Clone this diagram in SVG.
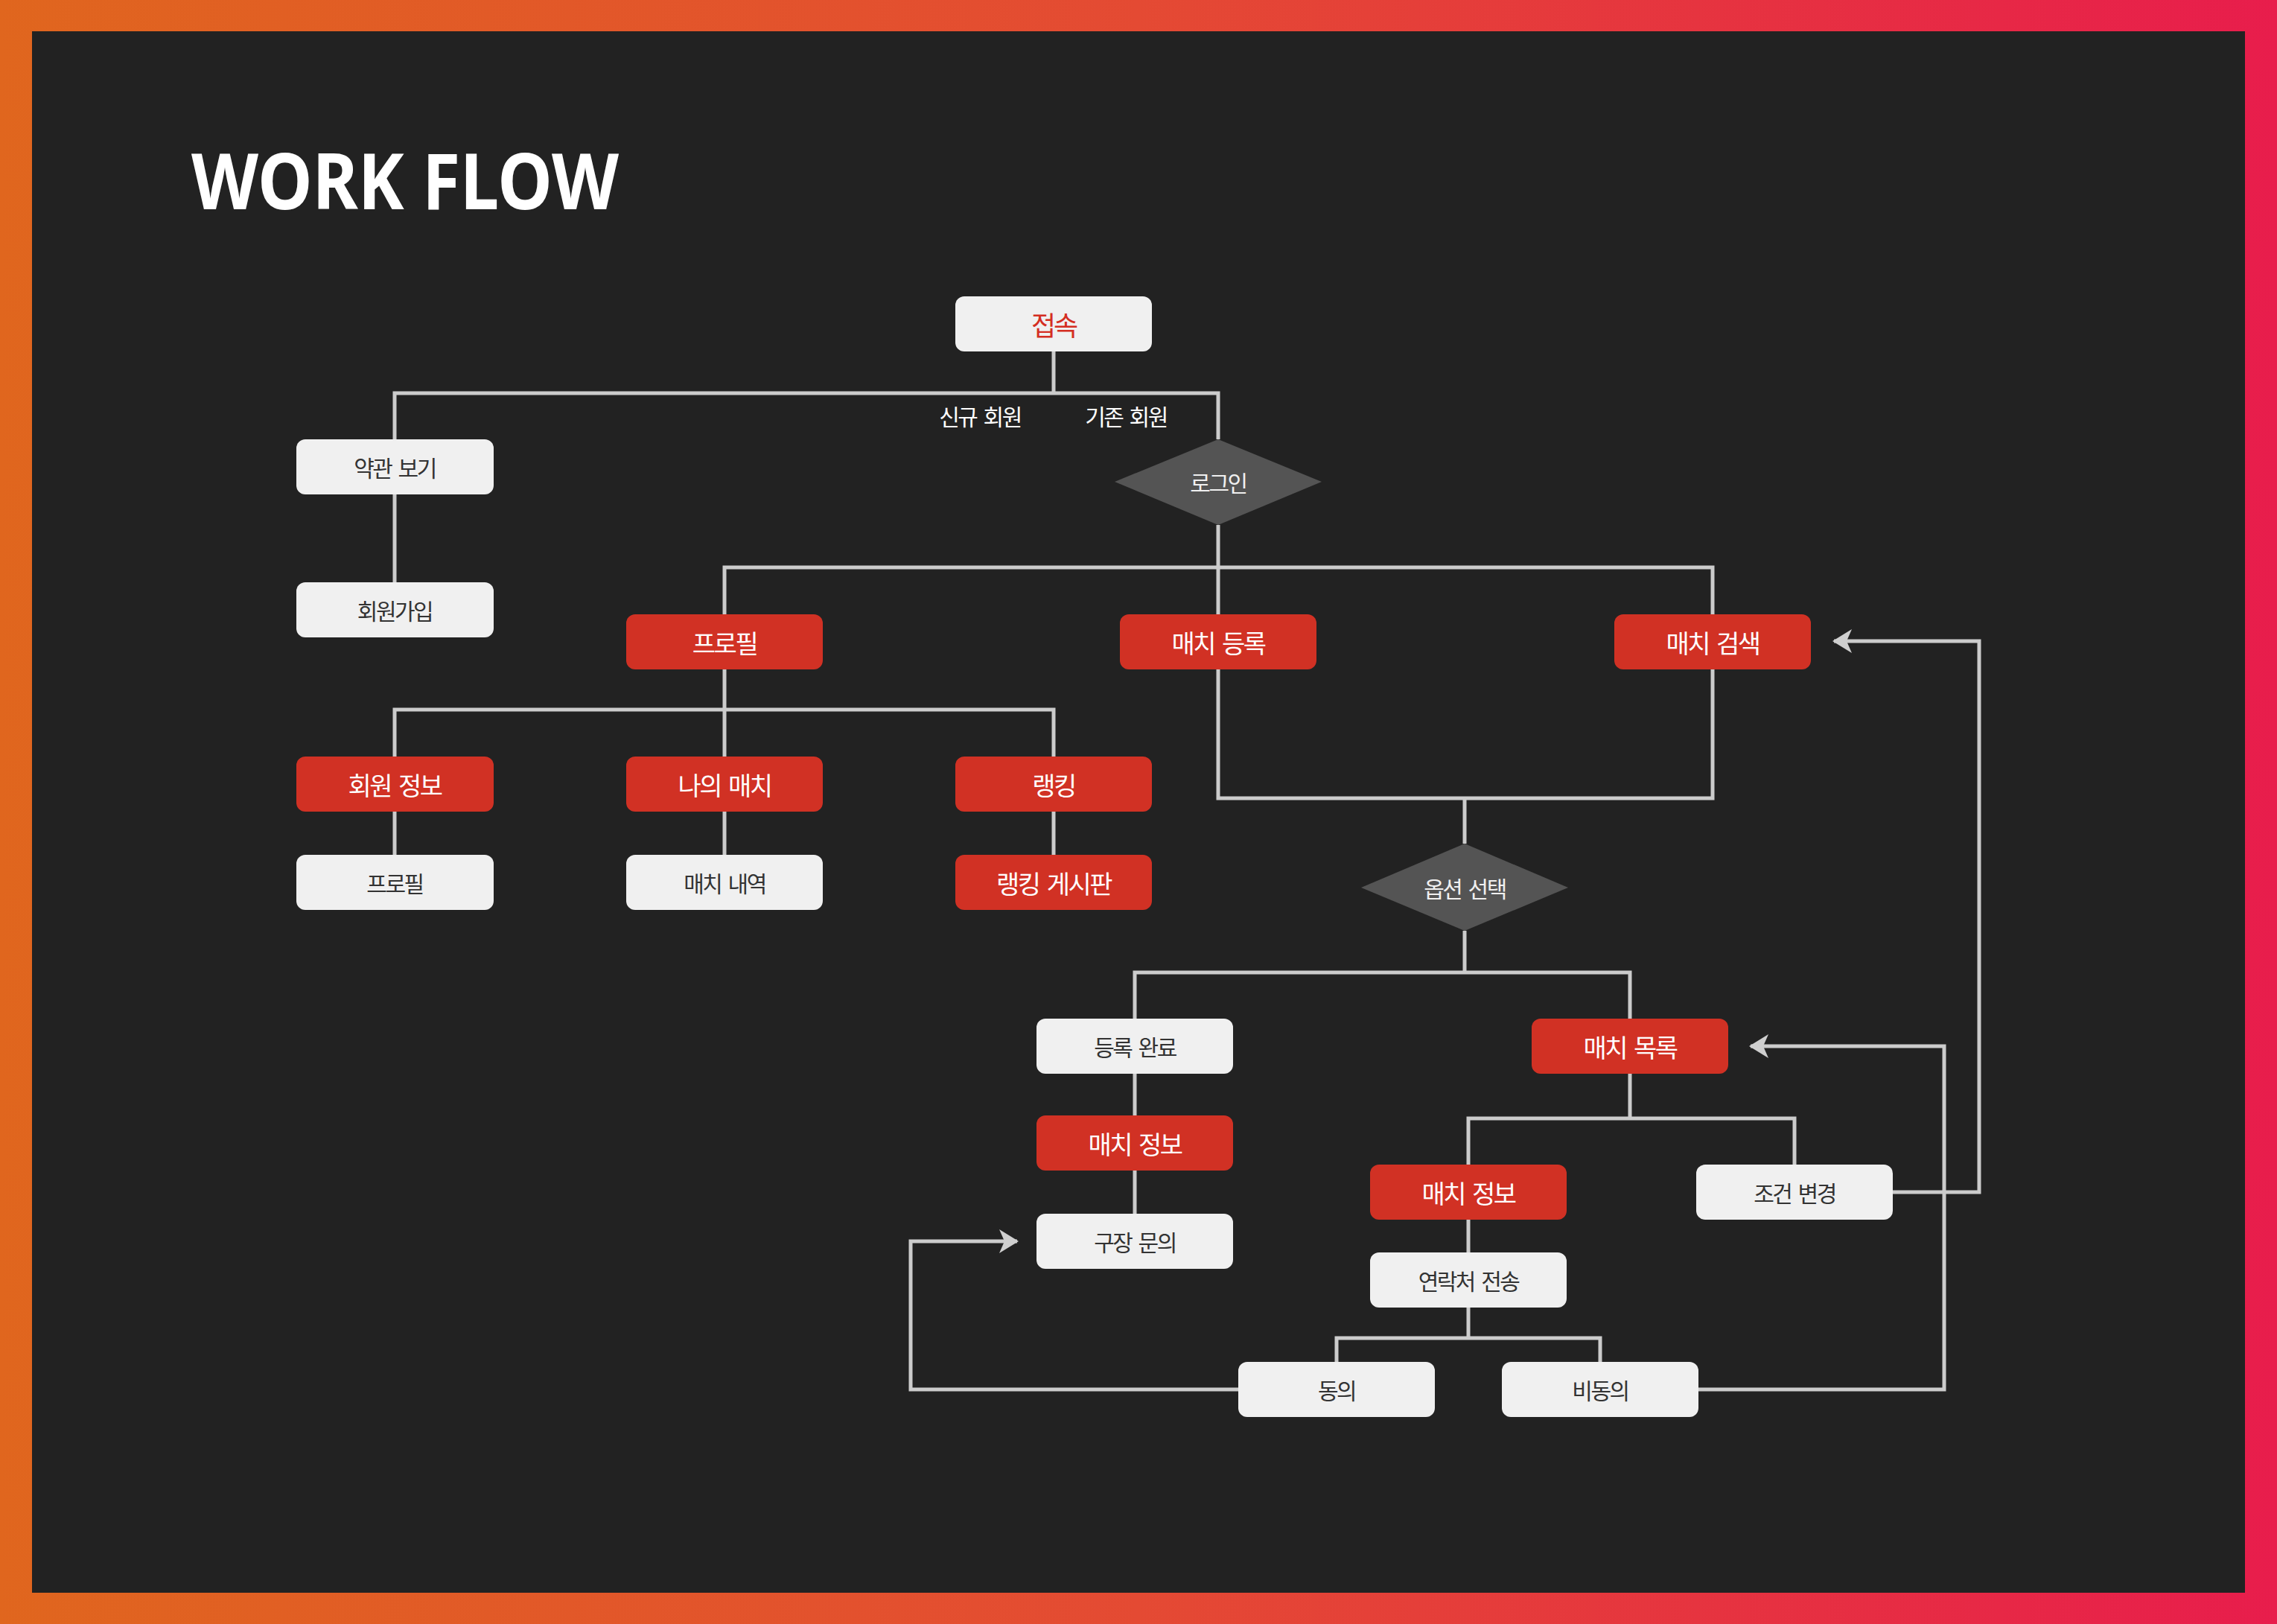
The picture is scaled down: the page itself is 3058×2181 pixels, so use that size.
<svg xmlns="http://www.w3.org/2000/svg" width="3058" height="2181" viewBox="0 0 3058 2181">
<defs>
<linearGradient id="frame" x1="0" y1="0" x2="1" y2="0">
<stop offset="0" stop-color="#E0661E"/>
<stop offset="0.5" stop-color="#E44A33"/>
<stop offset="1" stop-color="#E81D4C"/>
</linearGradient>
<marker id="arr" markerUnits="userSpaceOnUse" markerWidth="26" markerHeight="32" viewBox="0 0 26 32" refX="24" refY="16" orient="auto">
<path d="M0,0 L26,16 L0,32 L7,16 Z" fill="#CFCFCF"/>
</marker>
<style>
.lt{fill:#F0F0F0}
.rd{fill:#D13124}
.dm{fill:#545454}
.t{font-family:"Noto Sans CJK KR","Noto Sans",sans-serif;text-anchor:middle;dominant-baseline:central;word-spacing:5px}
.tl{font-size:30px;fill:#333333;letter-spacing:-2.5px}
.tr{font-size:34px;fill:#FFFFFF;letter-spacing:-2.5px}
.td{font-size:30px;fill:#F0F0F0;letter-spacing:-2.5px}
.tw{font-size:30px;fill:#FFFFFF;letter-spacing:-2.5px}
.c{fill:none;stroke:#CCCCCC;stroke-width:5}
</style>
</defs>
<rect x="0" y="0" width="3058" height="2181" fill="url(#frame)"/>
<rect x="43" y="42" width="2972" height="2097" fill="#222222"/>
<text x="257" y="281" font-family="Noto Sans,sans-serif" font-weight="700" font-size="104" fill="#FFFFFF" textLength="574" lengthAdjust="spacingAndGlyphs">WORK FLOW</text>

<g id="connectors">
<path class="c" d="M1415,472 V528"/>
<path class="c" d="M530,590 V528 H1636 V590"/>
<path class="c" d="M530,664 V782"/>
<path class="c" d="M1636,705 V825"/>
<path class="c" d="M973,825 V762 H2300 V825"/>
<path class="c" d="M973,899 V1016"/>
<path class="c" d="M530,1016 V953 H1415 V1016"/>
<path class="c" d="M530,1090 V1148"/>
<path class="c" d="M973,1090 V1148"/>
<path class="c" d="M1415,1090 V1148"/>
<path class="c" d="M1636,899 V1072 H2300 V899"/>
<path class="c" d="M1967,1072 V1133"/>
<path class="c" d="M1967,1250 V1306"/>
<path class="c" d="M1524,1368 V1306 H2189 V1368"/>
<path class="c" d="M1524,1442 V1498"/>
<path class="c" d="M1524,1572 V1630"/>
<path class="c" d="M2189,1442 V1502"/>
<path class="c" d="M1972,1564 V1502 H2410 V1564"/>
<path class="c" d="M1972,1638 V1682"/>
<path class="c" d="M1972,1756 V1797"/>
<path class="c" d="M1795,1829 V1797 H2149 V1829"/>
<path class="c" d="M1663,1866 H1223 V1667 H1366" marker-end="url(#arr)"/>
<path class="c" d="M2281,1866 H2611 V1405 H2351" marker-end="url(#arr)"/>
<path class="c" d="M2542,1601 H2658 V861 H2463" marker-end="url(#arr)"/>
<text class="t tw" x="1316" y="558">신규 회원</text>
<text class="t tw" x="1512" y="558">기존 회원</text>
</g>

<g id="n-access"><rect class="lt" x="1283" y="398" width="264" height="74" rx="12"/><text class="t" x="1415" y="435" font-size="36" fill="#D42E22" letter-spacing="-3">접속</text></g>
<g id="n-login"><polygon class="dm" points="1636,590 1775,647 1636,705 1497,647"/><text class="t td" x="1636" y="647">로그인</text></g>
<g id="n-terms"><rect class="lt" x="398" y="590" width="265" height="74" rx="12"/><text class="t tl" x="530" y="627">약관 보기</text></g>
<g id="n-signup"><rect class="lt" x="398" y="782" width="265" height="74" rx="12"/><text class="t tl" x="530" y="819">회원가입</text></g>
<g id="n-profile"><rect class="rd" x="841" y="825" width="264" height="74" rx="12"/><text class="t tr" x="973" y="862">프로필</text></g>
<g id="n-match-reg"><rect class="rd" x="1504" y="825" width="264" height="74" rx="12"/><text class="t tr" x="1636" y="862">매치 등록</text></g>
<g id="n-match-search"><rect class="rd" x="2168" y="825" width="264" height="74" rx="12"/><text class="t tr" x="2300" y="862">매치 검색</text></g>
<g id="n-member-info"><rect class="rd" x="398" y="1016" width="265" height="74" rx="12"/><text class="t tr" x="530" y="1053">회원 정보</text></g>
<g id="n-my-match"><rect class="rd" x="841" y="1016" width="264" height="74" rx="12"/><text class="t tr" x="973" y="1053">나의 매치</text></g>
<g id="n-ranking"><rect class="rd" x="1283" y="1016" width="264" height="74" rx="12"/><text class="t tr" x="1415" y="1053">랭킹</text></g>
<g id="n-profile-detail"><rect class="lt" x="398" y="1148" width="265" height="74" rx="12"/><text class="t tl" x="530" y="1185">프로필</text></g>
<g id="n-match-history"><rect class="lt" x="841" y="1148" width="264" height="74" rx="12"/><text class="t tl" x="973" y="1185">매치 내역</text></g>
<g id="n-ranking-board"><rect class="rd" x="1283" y="1148" width="264" height="74" rx="12"/><text class="t tr" x="1415" y="1185">랭킹 게시판</text></g>
<g id="n-option"><polygon class="dm" points="1967,1133 2106,1192 1967,1250 1828,1192"/><text class="t td" x="1967" y="1192">옵션 선택</text></g>
<g id="n-reg-done"><rect class="lt" x="1392" y="1368" width="264" height="74" rx="12"/><text class="t tl" x="1524" y="1405">등록 완료</text></g>
<g id="n-match-list"><rect class="rd" x="2057" y="1368" width="264" height="74" rx="12"/><text class="t tr" x="2189" y="1405">매치 목록</text></g>
<g id="n-match-info-1"><rect class="rd" x="1392" y="1498" width="264" height="74" rx="12"/><text class="t tr" x="1524" y="1535">매치 정보</text></g>
<g id="n-field-inquiry"><rect class="lt" x="1392" y="1630" width="264" height="74" rx="12"/><text class="t tl" x="1524" y="1667">구장 문의</text></g>
<g id="n-match-info-2"><rect class="rd" x="1840" y="1564" width="264" height="74" rx="12"/><text class="t tr" x="1972" y="1601">매치 정보</text></g>
<g id="n-condition"><rect class="lt" x="2278" y="1564" width="264" height="74" rx="12"/><text class="t tl" x="2410" y="1601">조건 변경</text></g>
<g id="n-contact"><rect class="lt" x="1840" y="1682" width="264" height="74" rx="12"/><text class="t tl" x="1972" y="1719">연락처 전송</text></g>
<g id="n-agree"><rect class="lt" x="1663" y="1829" width="264" height="74" rx="12"/><text class="t tl" x="1795" y="1866">동의</text></g>
<g id="n-disagree"><rect class="lt" x="2017" y="1829" width="264" height="74" rx="12"/><text class="t tl" x="2149" y="1866">비동의</text></g>
</svg>
